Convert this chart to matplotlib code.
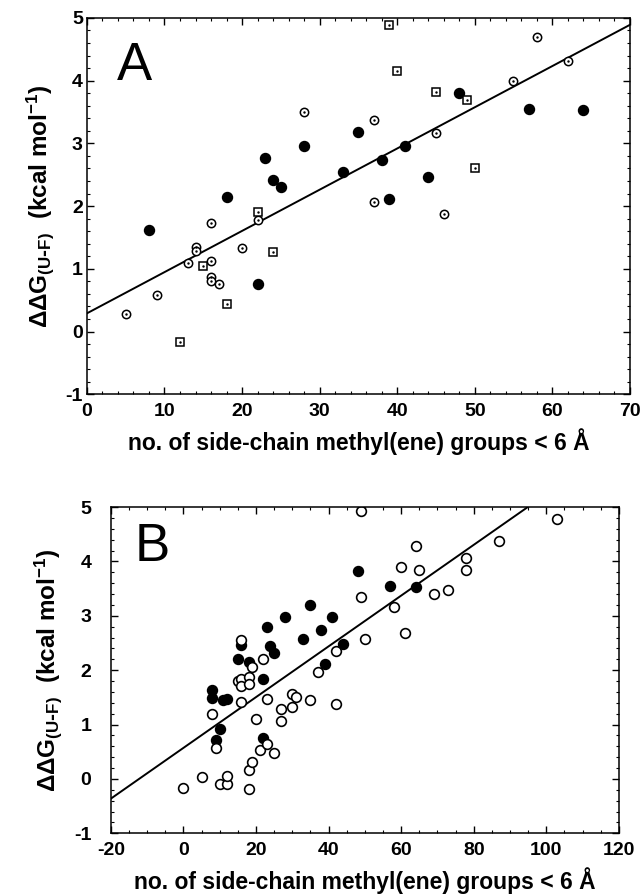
import numpy as np
import matplotlib
matplotlib.use("Agg")
import matplotlib.pyplot as plt
from matplotlib.ticker import MultipleLocator

plt.rcParams['font.family'] = ['Liberation Sans', 'DejaVu Sans']
plt.rcParams['mathtext.default'] = 'regular'
plt.rcParams['axes.unicode_minus'] = False
plt.rcParams['font.weight'] = 'bold'
plt.rcParams['axes.labelweight'] = 'bold'

# ---- panel A data ----
a_filled_x = [8, 18, 22, 23, 24, 25, 28, 33, 35, 38, 39, 41, 44, 48, 57, 64]
a_filled_y = [1.62, 2.14, 0.75, 2.77, 2.41, 2.30, 2.96, 2.55, 3.18, 2.73, 2.11, 2.96, 2.47, 3.80, 3.54, 3.53]
a_circ_x = [5, 9, 13, 14, 14, 16, 16, 16, 16, 17, 20, 22, 28, 37, 37, 45, 46, 55, 58, 62]
a_circ_y = [0.28, 0.59, 1.10, 1.35, 1.29, 1.73, 1.13, 0.87, 0.80, 0.75, 1.33, 1.78, 3.50, 3.38, 2.06, 3.16, 1.88, 4.00, 4.70, 4.31]
a_sq_x = [12, 15, 18, 22, 24, 39, 40, 45, 49, 50]
a_sq_y = [-0.17, 1.04, 0.44, 1.91, 1.26, 4.88, 4.16, 3.82, 3.69, 2.61]
a_fit = (0.29, 0.0657)   # intercept, slope

# ---- panel B data ----
b_filled_x = [8, 8, 9, 10, 11, 12, 15, 16, 18, 22, 22, 23, 24, 25, 28, 33, 35, 38, 39, 41, 44, 48, 57, 64]
b_filled_y = [1.64, 1.49, 0.71, 0.91, 1.45, 1.47, 2.20, 2.46, 2.16, 1.83, 0.76, 2.79, 2.44, 2.32,
              2.98, 2.57, 3.20, 2.74, 2.12, 2.98, 2.48, 3.82, 3.55, 3.53]
b_open_x = [0, 5, 8, 9, 10, 12, 12, 15, 16, 16, 16, 16, 18, 18, 18, 18, 19, 19, 20, 21, 22, 23, 23,
            25, 27, 27, 30, 30, 31, 35, 37, 42, 42, 49, 49, 50, 58, 60, 61, 64, 65, 69, 73, 78, 78, 87, 103]
b_open_y = [-0.17, 0.04, 1.20, 0.57, -0.09, -0.10, 0.05, 1.80, 1.83, 1.71, 1.41, 2.55, 1.88, 1.75, 0.17,
            -0.19, 0.31, 2.05, 1.11, 0.53, 2.20, 0.64, 1.47, 0.48, 1.29, 1.07, 1.57, 1.32, 1.51, 1.45,
            1.97, 1.37, 2.35, 4.92, 3.34, 2.58, 3.17, 3.90, 2.69, 4.28, 3.84, 3.41, 3.47, 4.07, 3.84,
            4.37, 4.78]
b_fit = (0.57, 0.0467)

xlabel = 'no. of side-chain methyl(ene) groups < 6 Å'
ylabel = r'$\Delta\Delta$G$_{(U\text{-}F)}$  (kcal mol$^{-1}$)'

fig = plt.figure(figsize=(6.44, 8.96), dpi=100)
axA = fig.add_axes([0.135, 0.560, 0.843, 0.420])
axB = fig.add_axes([0.172, 0.070, 0.789, 0.364])


def style(ax, xmaj, xmin, ypad):
    ax.set_ylim(-1, 5)
    ax.xaxis.set_major_locator(MultipleLocator(xmaj))
    ax.xaxis.set_minor_locator(MultipleLocator(xmin))
    ax.yaxis.set_major_locator(MultipleLocator(1))
    ax.yaxis.set_minor_locator(MultipleLocator(0.2))
    ax.tick_params(which='both', direction='in', top=True, right=True, labelsize=14)
    ax.tick_params(which='major', length=5, width=1)
    ax.tick_params(which='minor', length=2.5, width=0.8)
    ax.tick_params(axis='y', pad=ypad)
    ax.tick_params(axis='x', pad=6)
    for s in ax.spines.values():
        s.set_linewidth(1.1)
    ax.set_xlabel(xlabel, fontsize=16.5, labelpad=6)
    ax.set_ylabel(ylabel, fontsize=17.5, labelpad=7)


# panel A
xs = np.array([0, 70])
axA.plot(xs, a_fit[0] + a_fit[1] * xs, color='black', lw=1.4)
axA.plot(a_filled_x, a_filled_y, 'o', color='black', ms=7.2, ls='none')
axA.plot(a_circ_x, a_circ_y, 'o', mfc='white', mec='black', mew=1.1, ms=6, ls='none')
axA.plot(a_circ_x, a_circ_y, '.', color='black', ms=1.5, ls='none')
axA.plot(a_sq_x, a_sq_y, 's', mfc='white', mec='black', mew=1.1, ms=6, ls='none')
axA.plot(a_sq_x, a_sq_y, '.', color='black', ms=1.5, ls='none')
axA.set_xlim(0, 70)
style(axA, 10, 2, 3)
axA.text(0.055, 0.835, 'A', transform=axA.transAxes, fontsize=38, fontweight='normal')

# panel B
xs = np.array([-20, 120])
axB.plot(xs, b_fit[0] + b_fit[1] * xs, color='black', lw=1.4)
axB.plot(b_filled_x, b_filled_y, 'o', color='black', ms=7.2, ls='none')
axB.plot(b_open_x, b_open_y, 'o', mfc='white', mec='black', mew=1.2, ms=7, ls='none')
axB.set_xlim(-20, 120)
style(axB, 20, 5, 14)
axB.text(0.047, 0.834, 'B', transform=axB.transAxes, fontsize=38, fontweight='normal')

fig.savefig('out.png', dpi=100)
